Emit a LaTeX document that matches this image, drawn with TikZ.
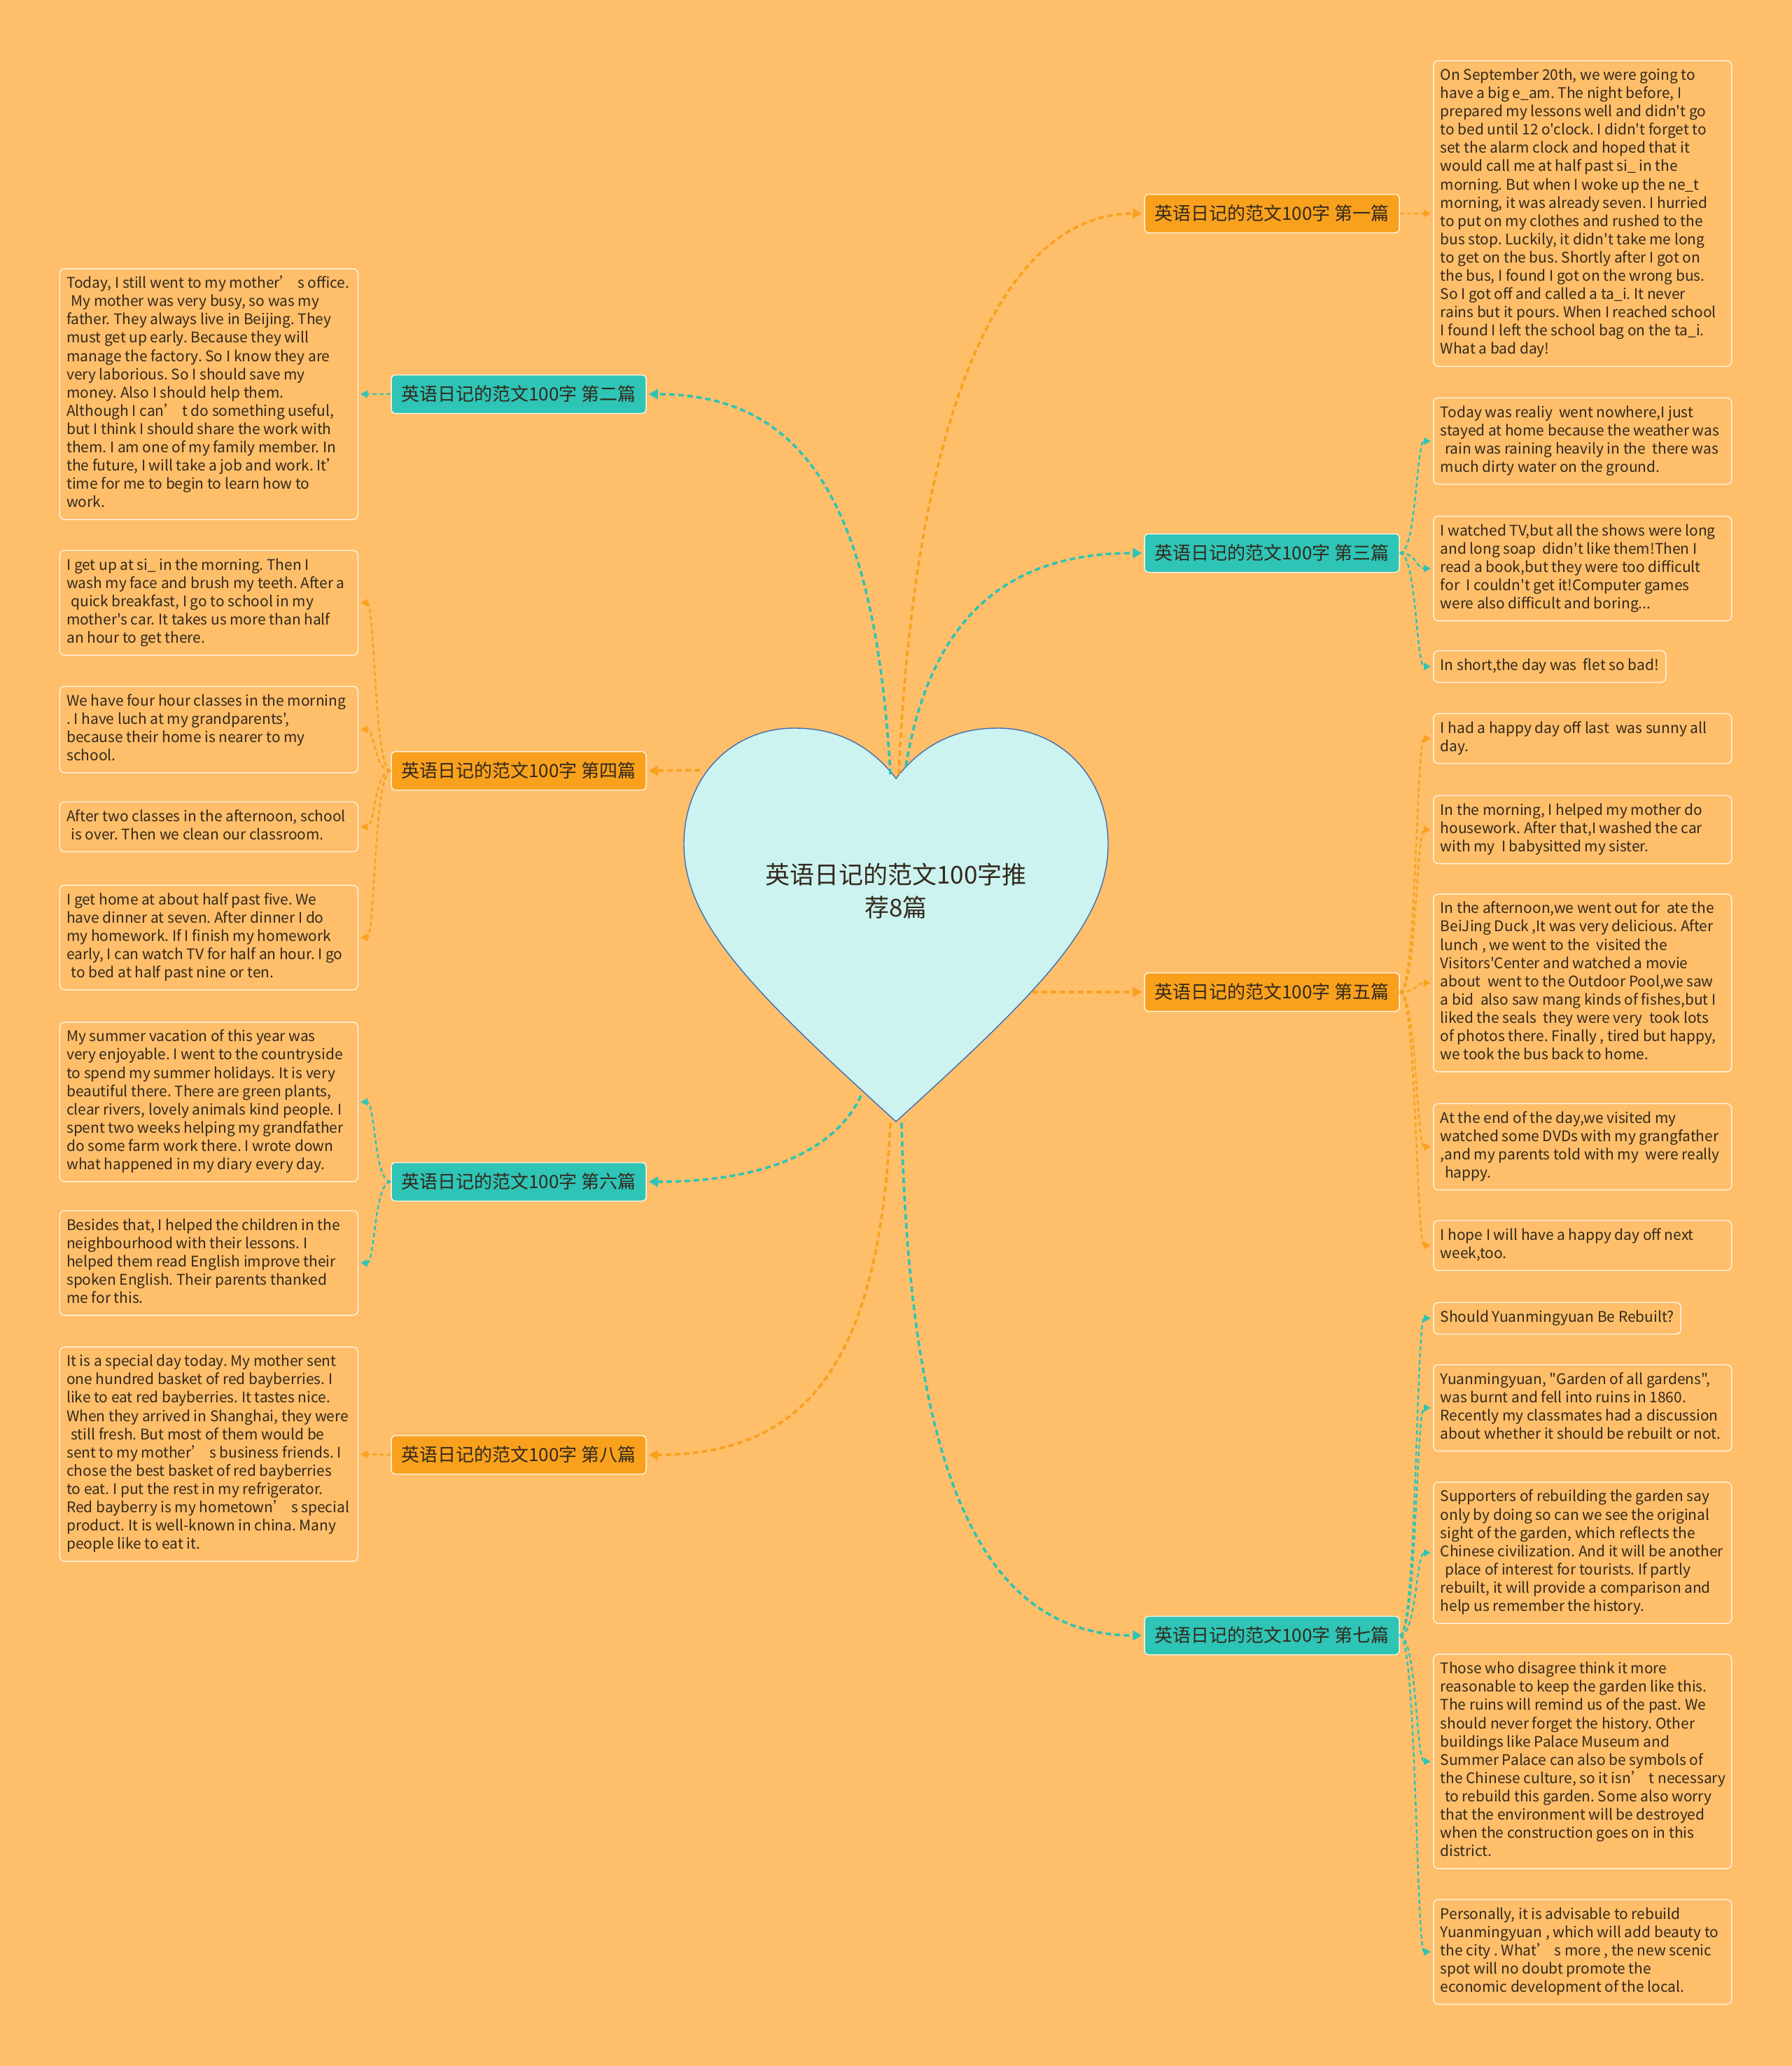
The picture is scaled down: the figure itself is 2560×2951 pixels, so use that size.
\documentclass[tikz,border=0pt]{standalone}
\usepackage{fontspec}
\newfontfamily\cjk{Noto Sans CJK SC}
\usetikzlibrary{arrows.meta}

\definecolor{bg}{HTML}{FEBE6A}
\definecolor{hubO}{HTML}{F9A11D}
\definecolor{hubT}{HTML}{2EC4B6}
\definecolor{heartF}{HTML}{CCF3F0}
\definecolor{heartL}{HTML}{3F6EB3}
\definecolor{edge}{HTML}{FFF1DE}
\definecolor{ink}{HTML}{33291C}
\newcommand\padsp{\hspace*{0.3em}}
\newcommand\notetext[1]{\makebox[406pt][l]{\begin{tabular}{@{}l@{}}#1\end{tabular}}}
\frenchspacing

\tikzset{
  note/.style={draw=edge,line width=1.5pt,rounded corners=7pt,text=ink,
    inner xsep=10pt,inner ysep=9.5pt,font=\cjk\fontsize{20.9}{26.1}\selectfont\frenchspacing},
  hub/.style={draw=edge,line width=1.5pt,rounded corners=6pt,text=ink,
    minimum width=364pt,minimum height=55pt,inner sep=0pt,font=\cjk\fontsize{26}{30}\selectfont},
  mainO/.style={draw=hubO,line width=3.6pt,dash pattern=on 8pt off 5pt,
    -{Triangle[length=13pt,width=14pt]},shorten >=3pt},
  mainT/.style={mainO,draw=hubT},
  subO/.style={draw=hubO,line width=2.4pt,dash pattern=on 6pt off 4pt,
    -{Triangle[length=10pt,width=10pt]},shorten >=3pt},
  subT/.style={subO,draw=hubT}
}

\begin{document}
\begin{tikzpicture}[x=1pt,y=-1pt]
\fill[bg] (0,0) rectangle (2560,2951);

% heart
\draw[fill=heartF,draw=heartL,line width=1.4pt] (1280,1112)
  .. controls (1320,1060) and (1370,1040) .. (1425,1040)
  .. controls (1515,1040) and (1583,1110) .. (1583,1206)
  .. controls (1583,1320) and (1480,1420) .. (1280,1602)
  .. controls (1080,1420) and (977,1320) .. (977,1206)
  .. controls (977,1110) and (1045,1040) .. (1135,1040)
  .. controls (1190,1040) and (1240,1060) .. (1280,1112) -- cycle;
\node[text=ink,align=center,font=\cjk\fontsize{35}{47}\selectfont] (root) at (1280,1273)
  {英语日记的范文100字推\\荐8篇};

% hubs
\node[hub,fill=hubO] (h1) at (1817,305) {英语日记的范文100字 第一篇};
\node[hub,fill=hubT] (h2) at (741,563) {英语日记的范文100字 第二篇};
\node[hub,fill=hubT] (h3) at (1817,790) {英语日记的范文100字 第三篇};
\node[hub,fill=hubO] (h4) at (741,1101) {英语日记的范文100字 第四篇};
\node[hub,fill=hubO] (h5) at (1817,1417) {英语日记的范文100字 第五篇};
\node[hub,fill=hubT] (h6) at (741,1688) {英语日记的范文100字 第六篇};
\node[hub,fill=hubT] (h7) at (1817,2336) {英语日记的范文100字 第七篇};
\node[hub,fill=hubO] (h8) at (741,2078) {英语日记的范文100字 第八篇};

% start points on the heart
\coordinate (s1) at (1284,1106);
\coordinate (s2) at (1272,1106);
\coordinate (s3) at (1294,1094);
\coordinate (s4) at (1000,1100);
\coordinate (s5) at (1475,1417);
\coordinate (s6) at (1230,1565);
\coordinate (s7) at (1288,1604);
\coordinate (s8) at (1272,1604);

\draw[mainO] (s1) .. controls (1305,620) and (1420,305) .. (h1.west);
\draw[mainT] (s2) .. controls (1250,720) and (1150,563) .. (h2.east);
\draw[mainT] (s3) .. controls (1330,880) and (1440,790) .. (h3.west);
\draw[mainO] (s4) -- (h4.east);
\draw[mainO] (s5) -- (h5.west);
\draw[mainT] (s6) .. controls (1190,1650) and (1080,1688) .. (h6.east);
\draw[mainT] (s7) .. controls (1300,2100) and (1400,2336) .. (h7.west);
\draw[mainO] (s8) .. controls (1255,1950) and (1150,2078) .. (h8.east);

% right notes
\node[note,anchor=west] (t1) at (2047,305) {\notetext{On September 20th, we were going to\\
have a big e\_am. The night before, I\\
prepared my lessons well and didn't go\\
to bed until 12 o'clock. I didn't forget to\\
set the alarm clock and hoped that it\\
would call me at half past si\_ in the\\
morning. But when I woke up the ne\_t\\
morning, it was already seven. I hurried\\
to put on my clothes and rushed to the\\
bus stop. Luckily, it didn't take me long\\
to get on the bus. Shortly after I got on\\
the bus, I found I got on the wrong bus.\\
So I got off and called a ta\_i. It never\\
rains but it pours. When I reached school\\
I found I left the school bag on the ta\_i.\\
What a bad day!}};

\node[note,anchor=west] (t3a) at (2047,630) {\notetext{Today was realiy~ went nowhere,I just\\
stayed at home because the weather was\\
\padsp rain was raining heavily in the~ there was\\
much dirty water on the ground.}};
\node[note,anchor=west] (t3b) at (2047,812) {\notetext{I watched TV,but all the shows were long\\
and long soap~ didn't like them!Then I\\
read a book,but they were too difficult\\
for~ I couldn't get it!Computer games\\
were also difficult and boring...}};
\node[note,anchor=west] (t3c) at (2047,952) {\strut In short,the day was~ flet so bad!};

\node[note,anchor=west] (t5a) at (2047,1055) {\notetext{I had a happy day off last~ was sunny all\\
day.}};
\node[note,anchor=west] (t5b) at (2047,1185) {\notetext{In the morning, I helped my mother do\\
housework. After that,I washed the car\\
with my~ I babysitted my sister.}};
\node[note,anchor=west] (t5c) at (2047,1404) {\notetext{In the afternoon,we went out for~ ate the\\
BeiJing Duck ,It was very delicious. After\\
lunch , we went to the~ visited the\\
Visitors'Center and watched a movie\\
about~ went to the Outdoor Pool,we saw\\
a bid~ also saw mang kinds of fishes,but I\\
liked the seals~ they were very~ took lots\\
of photos there. Finally , tired but happy,\\
we took the bus back to home.}};
\node[note,anchor=west] (t5d) at (2047,1638) {\notetext{At the end of the day,we visited my\\
watched some DVDs with my grangfather\\
,and my parents told with my~ were really\\
\padsp happy.}};
\node[note,anchor=west] (t5e) at (2047,1779) {\notetext{I hope I will have a happy day off next\\
week,too.}};

\node[note,anchor=west] (t7a) at (2047,1883) {\strut Should Yuanmingyuan Be Rebuilt?};
\node[note,anchor=west] (t7b) at (2047,2011) {\notetext{Yuanmingyuan, "Garden of all gardens",\\
was burnt and fell into ruins in 1860.\\
Recently my classmates had a discussion\\
about whether it should be rebuilt or not.}};
\node[note,anchor=west] (t7c) at (2047,2218) {\notetext{Supporters of rebuilding the garden say\\
only by doing so can we see the original\\
sight of the garden, which reflects the\\
Chinese civilization. And it will be another\\
\padsp place of interest for tourists. If partly\\
rebuilt, it will provide a comparison and\\
help us remember the history.}};
\node[note,anchor=west] (t7d) at (2047,2516) {\notetext{Those who disagree think it more\\
reasonable to keep the garden like this.\\
The ruins will remind us of the past. We\\
should never forget the history. Other\\
buildings like Palace Museum and\\
Summer Palace can also be symbols of\\
the Chinese culture, so it isn’ t necessary\\
\padsp to rebuild this garden. Some also worry\\
that the environment will be destroyed\\
when the construction goes on in this\\
district.}};
\node[note,anchor=west] (t7e) at (2047,2788) {\notetext{Personally, it is advisable to rebuild\\
Yuanmingyuan , which will add beauty to\\
the city . What’ s more , the new scenic\\
spot will no doubt promote the\\
economic development of the local.}};

% left notes
\node[note,anchor=east] (t2) at (512,563) {\notetext{Today, I still went to my mother’ s office.\\
\padsp My mother was very busy, so was my\\
father. They always live in Beijing. They\\
must get up early. Because they will\\
manage the factory. So I know they are\\
very laborious. So I should save my\\
money. Also I should help them.\\
Although I can’ t do something useful,\\
but I think I should share the work with\\
them. I am one of my family member. In\\
the future, I will take a job and work. It’\\
time for me to begin to learn how to\\
work.}};

\node[note,anchor=east] (t4a) at (512,861) {\notetext{I get up at si\_ in the morning. Then I\\
wash my face and brush my teeth. After a\\
\padsp quick breakfast, I go to school in my\\
mother's car. It takes us more than half\\
an hour to get there.}};
\node[note,anchor=east] (t4b) at (512,1042) {\notetext{We have four hour classes in the morning\\
. I have luch at my grandparents',\\
because their home is nearer to my\\
school.}};
\node[note,anchor=east] (t4c) at (512,1181) {\notetext{After two classes in the afternoon, school\\
\padsp is over. Then we clean our classroom.}};
\node[note,anchor=east] (t4d) at (512,1339) {\notetext{I get home at about half past five. We\\
have dinner at seven. After dinner I do\\
my homework. If I finish my homework\\
early, I can watch TV for half an hour. I go\\
\padsp to bed at half past nine or ten.}};

\node[note,anchor=east] (t6a) at (512,1574) {\notetext{My summer vacation of this year was\\
very enjoyable. I went to the countryside\\
to spend my summer holidays. It is very\\
beautiful there. There are green plants,\\
clear rivers, lovely animals kind people. I\\
spent two weeks helping my grandfather\\
do some farm work there. I wrote down\\
what happened in my diary every day.}};
\node[note,anchor=east] (t6b) at (512,1804) {\notetext{Besides that, I helped the children in the\\
neighbourhood with their lessons. I\\
helped them read English improve their\\
spoken English. Their parents thanked\\
me for this.}};

\node[note,anchor=east] (t8) at (512,2077) {\notetext{It is a special day today. My mother sent\\
one hundred basket of red bayberries. I\\
like to eat red bayberries. It tastes nice.\\
When they arrived in Shanghai, they were\\
\padsp still fresh. But most of them would be\\
sent to my mother’ s business friends. I\\
chose the best basket of red bayberries\\
to eat. I put the rest in my refrigerator.\\
Red bayberry is my hometown’ s special\\
product. It is well-known in china. Many\\
people like to eat it.}};

% hub to notes
\draw[subO] (h1.east) -- (t1.west);
\foreach \b in {t3a,t3b,t3c}
  \draw[subT] (h3.east) .. controls +(24,0) and +(-24,0) .. (\b.west);
\foreach \b in {t5a,t5b,t5c,t5d,t5e}
  \draw[subO] (h5.east) .. controls +(24,0) and +(-24,0) .. (\b.west);
\foreach \b in {t7a,t7b,t7c,t7d,t7e}
  \draw[subT] (h7.east) .. controls +(24,0) and +(-24,0) .. (\b.west);
\draw[subT] (h2.west) -- (t2.east);
\foreach \b in {t4a,t4b,t4c,t4d}
  \draw[subO] (h4.west) .. controls +(-24,0) and +(24,0) .. (\b.east);
\foreach \b in {t6a,t6b}
  \draw[subT] (h6.west) .. controls +(-24,0) and +(24,0) .. (\b.east);
\draw[subO] (h8.west) -- (t8.east);
\end{tikzpicture}
\end{document}
